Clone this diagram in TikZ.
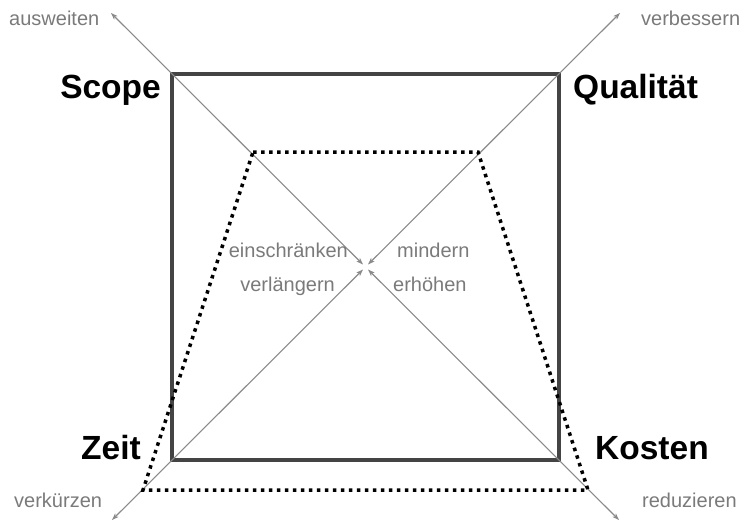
\documentclass[tikz,border=0pt]{standalone}
\usepackage{fontspec}
\setmainfont{Liberation Sans}
\usetikzlibrary{arrows.meta}
\definecolor{axisgray}{HTML}{8A8A8A}
\definecolor{txtgray}{HTML}{7A7A7A}
\definecolor{boxgray}{HTML}{444444}
\tikzset{
  axis/.style={draw=axisgray, line width=1.1pt, {Stealth[length=7pt,width=5pt]}-{Stealth[length=7pt,width=5pt]}},
  frame/.style={draw=boxgray, line width=3.5pt, line join=miter},
  dotline/.style={draw=black, line width=3.5pt, dash pattern=on 3.5pt off 4.5pt},
  big/.style={font=\fontsize{33.5}{34}\selectfont\bfseries, inner sep=0pt, text=black},
  small/.style={font=\fontsize{20}{20}\selectfont, inner sep=0pt, text=txtgray},
}
\begin{document}
\begin{tikzpicture}[x=1pt,y=-1pt]
\useasboundingbox (0,0) rectangle (741,522);
% square corners
\coordinate (tl) at (172,74);
\coordinate (tr) at (559,74);
\coordinate (bl) at (172,460);
\coordinate (br) at (559,460);
% outer arrow tips
\coordinate (otl) at (111,13);
\coordinate (otr) at (620,13);
\coordinate (obl) at (112,520);
\coordinate (obr) at (619,520);
% inner arrow tips
\coordinate (itl) at (363,264.5);
\coordinate (itr) at (368,264.5);
\coordinate (ibl) at (363,269.5);
\coordinate (ibr) at (368,269.5);
% trapezoid
\coordinate (dtl) at (253,152);
\coordinate (dtr) at (478,152);
\coordinate (dbr) at (588,490);
\coordinate (dbl) at (143,490);

\draw[frame] (tl) -- (tr) -- (br) -- (bl) -- cycle;
\draw[axis] (otl) -- (itl);
\draw[axis] (otr) -- (itr);
\draw[axis] (obl) -- (ibl);
\draw[axis] (obr) -- (ibr);
\draw[dotline] (dtl) -- (dtr) -- (dbr) -- (dbl) -- cycle;

\node[big, anchor=base east] (scope) at (161,98) {Scope};
\node[big, anchor=base west] (qual) at (573,98) {Qualität};
\node[big, anchor=base east] (zeit) at (141,459) {Zeit};
\node[big, anchor=base west] (kosten) at (595,459) {Kosten};

\node[small, anchor=base west] (ausw) at (9,25) {ausweiten};
\node[small, anchor=base west] (verb) at (641,25) {verbessern};
\node[small, anchor=base west] (verk) at (14,507) {verkürzen};
\node[small, anchor=base west] (redu) at (642,507) {reduzieren};

\node[small, anchor=base east] (einsch) at (348,257) {einschränken};
\node[small, anchor=base east] (verl) at (335,291) {verlängern};
\node[small, anchor=base west] (mind) at (397,257) {mindern};
\node[small, anchor=base west] (erh) at (393,291) {erhöhen};
\end{tikzpicture}
\end{document}
